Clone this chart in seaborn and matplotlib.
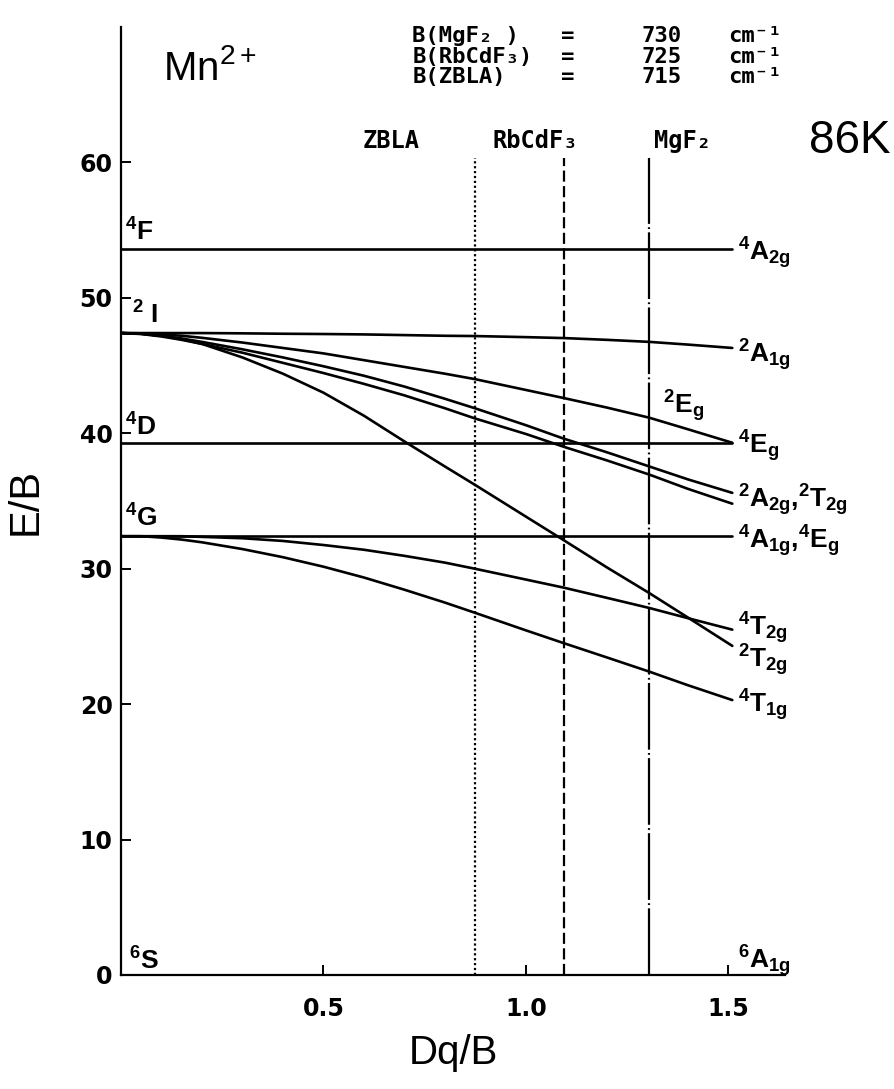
import numpy as np
import pandas as pd
import matplotlib
matplotlib.use("Agg")
import matplotlib.pyplot as plt
import seaborn as sns

# ---------------- data ----------------
dq = [0.0, 0.05, 0.1, 0.15, 0.2, 0.3, 0.4, 0.5, 0.6, 0.7, 0.8, 0.874,
      1.0, 1.094, 1.2, 1.305, 1.4, 1.51]

e_2A1g = [47.4, 47.4, 47.4, 47.4, 47.4, 47.38, 47.35, 47.33, 47.3, 47.25,
          47.2, 47.18, 47.1, 47.03, 46.9, 46.75, 46.55, 46.3]
e_2Eg = [47.4, 47.38, 47.3, 47.2, 47.05, 46.7, 46.3, 45.9, 45.4, 44.9,
         44.4, 44.0, 43.2, 42.6, 41.9, 41.15, 40.3, 39.3]
e_2A2g = [47.4, 47.35, 47.2, 47.0, 46.75, 46.2, 45.6, 44.95, 44.25, 43.45,
          42.55, 41.85, 40.6, 39.6, 38.6, 37.55, 36.6, 35.6]
e_2T2g_a = [47.4, 47.33, 47.15, 46.9, 46.6, 45.95, 45.2, 44.45, 43.65, 42.8,
            41.85, 41.1, 39.95, 39.0, 38.0, 36.95, 35.9, 34.8]
e_2T2g_b = [47.4, 47.35, 47.2, 46.95, 46.6, 45.6, 44.4, 43.0, 41.3, 39.4,
            37.55, 36.2, 33.85, 32.1, 30.1, 28.2, 26.4, 24.3]
e_4T2g = [32.4, 32.4, 32.4, 32.4, 32.35, 32.25, 32.05, 31.75, 31.4, 30.95,
          30.45, 30.0, 29.2, 28.6, 27.85, 27.1, 26.35, 25.5]
e_4T1g = [32.4, 32.4, 32.3, 32.15, 31.95, 31.45, 30.85, 30.15, 29.35, 28.45,
          27.5, 26.75, 25.45, 24.5, 23.45, 22.4, 21.4, 20.3]

flat_names = ["4A2g", "4Eg", "4A1g_4Eg"]
flat_E = [53.6, 39.3, 32.4]
flat_dq = [0.0, 1.51]

host_names = ["ZBLA", "RbCdF3", "MgF2"]
host_dq = [0.874, 1.094, 1.305]
host_B = [715, 725, 730]

y_ticks = [0, 10, 20, 30, 40, 50, 60]
x_ticks = [0.5, 1.0, 1.5]
x_ticklabels = ["0.5", "1.0", "1.5"]

# ---------------- build long table ----------------
curves = {
    "2A1g": e_2A1g, "2Eg": e_2Eg, "2A2g": e_2A2g, "2T2g_a": e_2T2g_a,
    "2T2g_b": e_2T2g_b, "4T2g": e_4T2g, "4T1g": e_4T1g,
}
rows = []
for name, vals in curves.items():
    for x, e in zip(dq, vals):
        rows.append({"state": name, "dq": x, "E": e})
for name, e in zip(flat_names, flat_E):
    for x in flat_dq:
        rows.append({"state": name, "dq": x, "E": e})
df = pd.DataFrame(rows)

# ---------------- style ----------------
sns.set_style("white")
plt.rcParams["font.family"] = ["Liberation Sans", "DejaVu Sans"]
plt.rcParams["text.color"] = "black"
plt.rcParams["axes.labelcolor"] = "black"
plt.rcParams["xtick.color"] = "black"
plt.rcParams["ytick.color"] = "black"
plt.rcParams["mathtext.fontset"] = "custom"
plt.rcParams["mathtext.rm"] = "Liberation Sans:bold"
plt.rcParams["mathtext.it"] = "Liberation Sans:bold"
plt.rcParams["mathtext.bf"] = "Liberation Sans:bold"

fig = plt.figure(figsize=(8.94, 10.89), dpi=100)
ax = fig.add_axes([0.1353, 0.1047, 0.7427, 0.8705])

sns.lineplot(data=df, x="dq", y="E", units="state", estimator=None,
             color="black", linewidth=1.9, legend=False, sort=False, ax=ax)

host_styles = [(0, (1, 1.2)), (0, (5, 2)), (0, (30, 1.5, 0.8, 1.5))]
for x, ls in zip(host_dq, host_styles):
    ax.vlines(x, 0, 60.3, colors="black", linestyles=[ls], linewidth=1.6)

ax.set_xlim(0, 1.64)
ax.set_ylim(0, 70)
for s in ["top", "right"]:
    ax.spines[s].set_visible(False)
for s in ["left", "bottom"]:
    ax.spines[s].set_linewidth(1.6)
    ax.spines[s].set_color("black")

ax.set_yticks(y_ticks)
ax.set_yticklabels([str(v) for v in y_ticks], fontfamily="DejaVu Sans",
                   fontweight="bold", fontsize=17)
ax.set_xticks(x_ticks)
ax.set_xticklabels(x_ticklabels, fontfamily="DejaVu Sans",
                   fontweight="bold", fontsize=17)
ax.tick_params(axis="y", direction="in", length=7, width=1.4, pad=6,
               left=True, colors="black")
ax.tick_params(axis="x", direction="in", length=7, width=1.4, pad=16,
               bottom=True, colors="black")

ax.set_xlabel("Dq/B", fontsize=29, color="black")
ax.set_ylabel("E/B", fontsize=30, color="black")
ax.xaxis.set_label_coords(0.5, -0.062)
ax.yaxis.set_label_coords(-0.114, 0.5)

# ---------------- level labels ----------------
lab_kw = dict(fontsize=19, fontweight="bold", color="black", va="baseline")
# free-ion terms (left)
ax.text(0.01, 54.2, r"$^{4}$F", **lab_kw)
ax.text(0.027, 48.1, r"$^{2}$ I", **lab_kw)
ax.text(0.01, 39.85, r"$^{4}$D", **lab_kw)
ax.text(0.01, 33.1, r"$^{4}$G", **lab_kw)
ax.text(0.02, 0.4, r"$^{6}$S", **lab_kw)
# crystal-field states (right)
xr = 1.525
ax.text(xr, 52.8, r"$^{4}$A$_{2g}$", **lab_kw)
ax.text(xr, 45.2, r"$^{2}$A$_{1g}$", **lab_kw)
ax.text(1.34, 41.5, r"$^{2}$E$_{g}$", **lab_kw)
ax.text(xr, 38.5, r"$^{4}$E$_{g}$", **lab_kw)
ax.text(xr, 34.5, r"$^{2}$A$_{2g}$,$^{2}$T$_{2g}$", **lab_kw)
ax.text(xr, 31.5, r"$^{4}$A$_{1g}$,$^{4}$E$_{g}$", **lab_kw)
ax.text(xr, 25.1, r"$^{4}$T$_{2g}$", **lab_kw)
ax.text(xr, 22.7, r"$^{2}$T$_{2g}$", **lab_kw)
ax.text(xr, 19.4, r"$^{4}$T$_{1g}$", **lab_kw)
ax.text(xr, 0.5, r"$^{6}$A$_{1g}$", **lab_kw)

# ---------------- header texts ----------------
ax.text(0.104, 66.1, r"Mn$^{\mathregular{2+}}$", fontsize=29,
        va="baseline", color="black")
ax.text(1.90, 60.7, "86K", fontsize=33, ha="right", va="baseline",
        color="black")

mono = dict(fontfamily=["DejaVu Sans Mono"], fontweight="bold",
            fontsize=16, va="baseline", color="black")
host_disp = ["ZBLA", "RbCdF₃", "MgF₂"]
host_label_x = [0.597, 0.918, 1.317]
for t, x in zip(host_disp, host_label_x):
    ax.text(x, 61.1, t, **{**mono, "fontsize": 17})

b_left = ["B(MgF₂ )", "B(RbCdF₃)", "B(ZBLA)"]
b_rows_y = [68.9, 67.35, 65.85]
b_vals = [host_B[2], host_B[1], host_B[0]]
for t, yv, bv in zip(b_left, b_rows_y, b_vals):
    ax.text(0.72, yv, t, **mono)
    ax.text(1.087, yv, "=", **mono)
    ax.text(1.285, yv, str(bv), **mono)
    ax.text(1.50, yv, "cm⁻¹", **mono)

fig.savefig("out.png", dpi=100, facecolor="white")
